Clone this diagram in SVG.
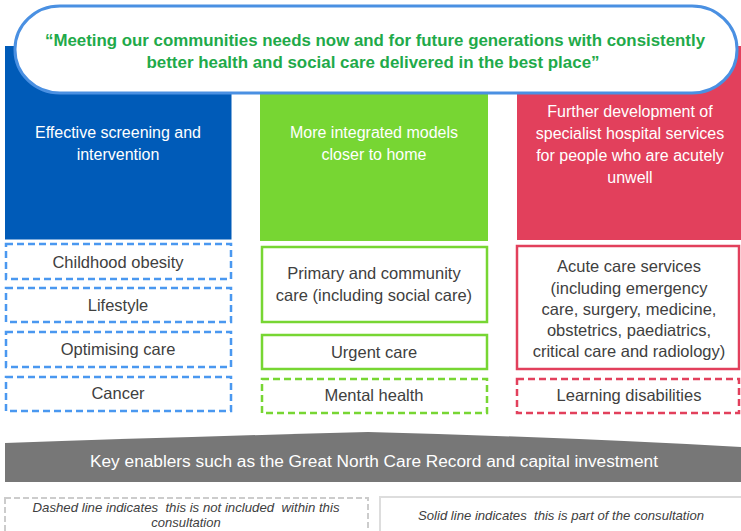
<svg xmlns="http://www.w3.org/2000/svg" width="741" height="531" viewBox="0 0 741 531">
<style>
  .head{font-family:"Liberation Sans","Open Sans",sans-serif;font-size:16px;fill:#ffffff;text-anchor:middle}
  .item{font-family:"Liberation Sans","Open Sans",sans-serif;font-size:16.5px;fill:#404040;text-anchor:middle}
  .quote{font-family:"Liberation Sans","Open Sans",sans-serif;font-size:17px;font-weight:bold;fill:#1faa4a;text-anchor:middle}
  .legend{font-family:"Liberation Sans","Open Sans",sans-serif;font-size:13px;font-style:italic;fill:#404040;text-anchor:middle}
  .box{fill:#ffffff;stroke-width:2.5}
  .dash{stroke-dasharray:7 4}
  .blue{stroke:#4a98f0}
  .green{stroke:#77d633}
  .red{stroke:#e2405c}
</style>
<rect x="0" y="0" width="741" height="531" fill="#ffffff"/>

<g id="col-blue">
  <rect x="5" y="46" width="226.5" height="193.5" fill="#005bb8"/>
  <text class="head" x="118" y="138">Effective screening and</text>
  <text class="head" x="118" y="160">intervention</text>
</g>
<g id="col-green">
  <rect x="260" y="46" width="228" height="195" fill="#77d633"/>
  <text class="head" x="374" y="138">More integrated models</text>
  <text class="head" x="374" y="160">closer to home</text>
</g>
<g id="col-red">
  <rect x="517" y="46" width="224" height="194" fill="#e2405c"/>
  <text class="head" x="630" y="117">Further development of</text>
  <text class="head" x="630" y="139">specialist hospital services</text>
  <text class="head" x="630" y="161">for people who are acutely</text>
  <text class="head" x="630" y="183">unwell</text>
</g>

<g id="banner">
  <rect x="15" y="6" width="722" height="87" rx="45" ry="43" fill="#ffffff" stroke="#4a90e2" stroke-width="3"/>
  <text class="quote" x="375" y="46" textLength="660" lengthAdjust="spacingAndGlyphs">“Meeting our communities needs now and for future generations with consistently</text>
  <text class="quote" x="373" y="68" textLength="453" lengthAdjust="spacingAndGlyphs">better health and social care delivered in the best place”</text>
</g>

<g id="childhood-obesity">
  <rect class="box dash blue" x="6" y="244" width="225" height="35"/>
  <text class="item" x="118" y="268">Childhood obesity</text>
</g>
<g id="lifestyle">
  <rect class="box dash blue" x="6" y="288" width="225" height="34"/>
  <text class="item" x="118" y="311">Lifestyle</text>
</g>
<g id="optimising-care">
  <rect class="box dash blue" x="6" y="332" width="225" height="35"/>
  <text class="item" x="118" y="355">Optimising care</text>
</g>
<g id="cancer">
  <rect class="box dash blue" x="6" y="377" width="225" height="34"/>
  <text class="item" x="118" y="399">Cancer</text>
</g>

<g id="primary-care">
  <rect class="box green" x="262" y="247" width="225" height="75"/>
  <text class="item" x="374" y="279">Primary and community</text>
  <text class="item" x="374" y="301">care (including social care)</text>
</g>
<g id="urgent-care">
  <rect class="box green" x="262" y="335" width="225" height="34"/>
  <text class="item" x="374" y="358">Urgent care</text>
</g>
<g id="mental-health">
  <rect class="box dash green" x="262" y="379" width="225" height="34"/>
  <text class="item" x="374" y="401">Mental health</text>
</g>

<g id="acute-care">
  <rect class="box red" x="517" y="246" width="222" height="123"/>
  <text class="item" x="629" y="272">Acute care services</text>
  <text class="item" x="629" y="294">(including emergency</text>
  <text class="item" x="629" y="315">care, surgery, medicine,</text>
  <text class="item" x="629" y="336">obstetrics, paediatrics,</text>
  <text class="item" x="629" y="357">critical care and radiology)</text>
</g>
<g id="learning-disabilities">
  <rect class="box dash red" x="517" y="379" width="222" height="34"/>
  <text class="item" x="629" y="401">Learning disabilities</text>
</g>

<g id="enablers">
  <path d="M5,443 Q180,437 368,432 Q560,437 741,447 L741,482 L5,482 Z" fill="#777777"/>
  <text class="head" x="374" y="467" textLength="568" lengthAdjust="spacingAndGlyphs">Key enablers such as the Great North Care Record and capital investment</text>
</g>

<g id="legend-dashed">
  <rect x="5" y="498" width="363" height="36" fill="#ffffff" stroke="#cccccc" stroke-width="2" stroke-dasharray="6 3"/>
  <text class="legend" x="186" y="512" xml:space="preserve" textLength="307" lengthAdjust="spacingAndGlyphs">Dashed line indicates  this is not included  within this</text>
  <text class="legend" x="186" y="527">consultation</text>
</g>
<g id="legend-solid">
  <rect x="380" y="497" width="362" height="37" fill="#ffffff" stroke="#dddddd" stroke-width="2"/>
  <text class="legend" x="561" y="520" xml:space="preserve" textLength="286" lengthAdjust="spacingAndGlyphs">Solid line indicates  this is part of the consultation</text>
</g>

<g id="connectors"></g>
</svg>
